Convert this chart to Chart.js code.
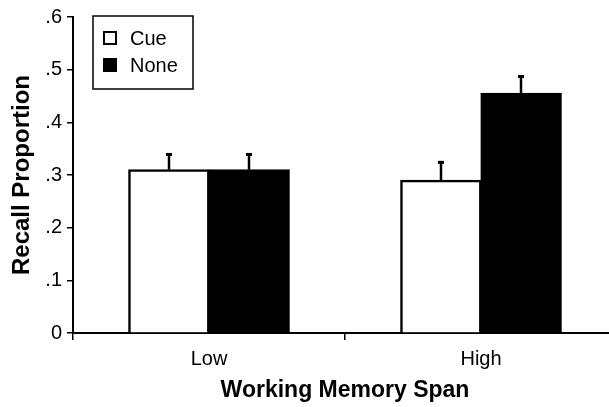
<!DOCTYPE html>
<html>
<head>
<meta charset="utf-8">
<script src="https://cdn.jsdelivr.net/npm/chart.js@4/dist/chart.umd.min.js"></script>
<style>
  html, body { margin: 0; padding: 0; background: #fff; overflow: hidden; }
  #wrap { width: 609px; height: 407px; overflow: hidden; }
  canvas { display: block; }
</style>
</head>
<body>
<div id="wrap"><canvas id="c" width="620" height="407"></canvas></div>
<script>
// Recall proportion by working memory span and cue condition
const categories = ['Low', 'High'];
const seriesNames = ['Cue', 'None'];
const cueMeans = [0.31, 0.29];
const noneMeans = [0.31, 0.455];
const cueErrors = [0.03, 0.035];
const noneErrors = [0.03, 0.033];
const yTickValues = [0, 0.1, 0.2, 0.3, 0.4, 0.5, 0.6];

const FONT = "'Liberation Sans', Arial, Helvetica, sans-serif";

// Error bars: a stem rising from each bar top with a small cap
const errorBarPlugin = {
  id: 'errorBars',
  afterDatasetsDraw(chart) {
    const ctx = chart.ctx;
    const yScale = chart.scales.y;
    chart.data.datasets.forEach((ds, di) => {
      const meta = chart.getDatasetMeta(di);
      meta.data.forEach((bar, i) => {
        const v = ds.data[i];
        const err = ds.errors[i];
        const x = Math.round(bar.x);
        const yTop = yScale.getPixelForValue(v);
        const yErr = yScale.getPixelForValue(v + err);
        ctx.save();
        ctx.strokeStyle = '#000';
        ctx.lineWidth = 2.5;
        ctx.beginPath();
        ctx.moveTo(x, yTop);
        ctx.lineTo(x, yErr);
        ctx.stroke();
        ctx.fillStyle = '#000';
        ctx.fillRect(x - 3, yErr - 1, 6, 3);
        ctx.restore();
      });
    });
  }
};

// Boxed legend in the upper-left of the plot
const boxedLegendPlugin = {
  id: 'boxedLegend',
  afterDraw(chart) {
    const ctx = chart.ctx;
    const area = chart.chartArea;
    const left = area.left + 20;
    const top = area.top - 1;
    const w = 100, h = 73;
    ctx.save();
    ctx.strokeStyle = '#000';
    ctx.lineWidth = 1.5;
    ctx.strokeRect(left, top, w, h);
    ctx.font = '20px ' + FONT;
    ctx.textBaseline = 'middle';
    ctx.fillStyle = '#000';
    chart.data.datasets.forEach((ds, i) => {
      const cy = top + 22 + i * 27;
      const sx = left + 11;
      ctx.fillStyle = ds.backgroundColor;
      ctx.fillRect(sx, cy - 6, 12, 12);
      ctx.strokeStyle = '#000';
      ctx.lineWidth = 2;
      ctx.strokeRect(sx, cy - 6, 12, 12);
      ctx.fillStyle = '#000';
      ctx.fillText(ds.label, left + 37, cy + 1);
    });
    ctx.restore();
  }
};

new Chart(document.getElementById('c'), {
  type: 'bar',
  data: {
    labels: categories,
    datasets: [
      {
        label: seriesNames[0],
        data: cueMeans,
        errors: cueErrors,
        backgroundColor: '#ffffff',
        borderColor: '#000000',
        borderWidth: 2.5,
        inflateAmount: 0.6
      },
      {
        label: seriesNames[1],
        data: noneMeans,
        errors: noneErrors,
        backgroundColor: '#000000',
        borderColor: '#000000',
        borderWidth: 2.5,
        inflateAmount: 0.6
      }
    ]
  },
  options: {
    responsive: false,
    animation: false,
    devicePixelRatio: 1,
    layout: { padding: { top: 16, right: 3, left: 0, bottom: 0 } },
    categoryPercentage: 0.59,
    barPercentage: 1,
    plugins: {
      legend: { display: false },
      tooltip: { enabled: false }
    },
    scales: {
      x: {
        grid: {
          offset: true,
          drawOnChartArea: false,
          drawTicks: true,
          tickLength: 7,
          color: '#000',
          lineWidth: 1.5
        },
        border: { display: true, color: '#000', width: 2 },
        ticks: {
          color: '#000',
          font: { family: FONT, size: 20 },
          padding: 7
        },
        title: {
          display: true,
          text: 'Working Memory Span',
          color: '#000',
          font: { family: FONT, size: 23, weight: 'bold' },
          padding: { top: 2, bottom: 3 }
        },
        afterFit(scale) { scale.height = 74; }
      },
      y: {
        min: 0,
        max: 0.6,
        afterBuildTicks(scale) {
          scale.ticks = yTickValues.map(v => ({ value: v }));
        },
        grid: {
          drawOnChartArea: false,
          drawTicks: true,
          tickLength: 6,
          color: '#000',
          lineWidth: 1.5
        },
        border: { display: true, color: '#000', width: 2 },
        ticks: {
          color: '#000',
          font: { family: FONT, size: 20 },
          padding: 5,
          callback(v) {
            return v === 0 ? '0' : Number(v).toFixed(1).replace(/^0/, '');
          }
        },
        title: {
          display: true,
          text: 'Recall Proportion',
          color: '#000',
          font: { family: FONT, size: 24, weight: 'bold' },
          padding: { top: 8, bottom: 4 }
        },
        afterFit(scale) { scale.width = 73; }
      }
    }
  },
  plugins: [errorBarPlugin, boxedLegendPlugin]
});
</script>
</body>
</html>
